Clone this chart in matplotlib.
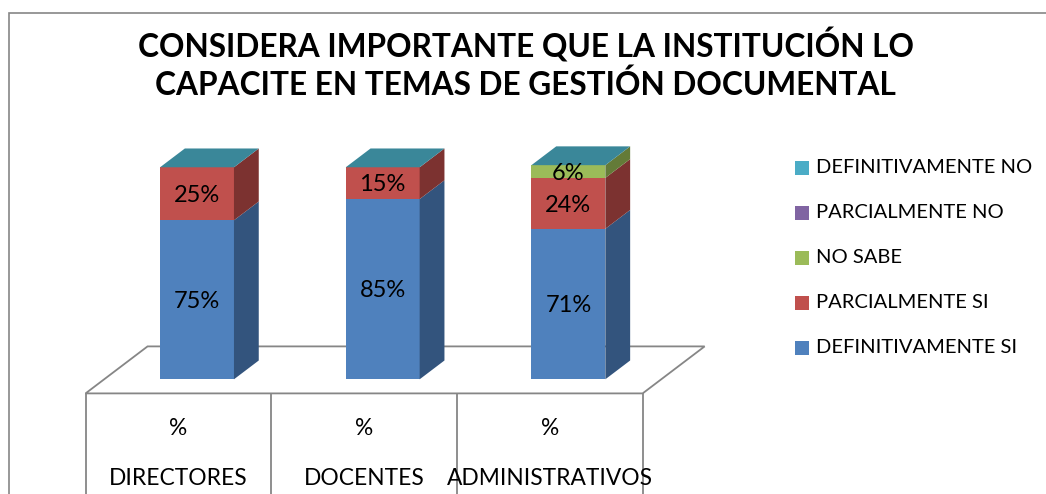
import matplotlib
matplotlib.use("Agg")
import matplotlib.pyplot as plt
from matplotlib.patches import Polygon, Rectangle

# ---------------- data ----------------
categories = ["DIRECTORES", "DOCENTES", "ADMINISTRATIVOS"]
column_header = ["%", "%", "%"]
series_names = ["DEFINITIVAMENTE SI", "PARCIALMENTE SI", "NO SABE",
                "PARCIALMENTE NO", "DEFINITIVAMENTE NO"]
definitivamente_si = [75, 85, 71]
parcialmente_si = [25, 15, 24]
no_sabe = [0, 0, 6]
parcialmente_no = [0, 0, 0]
definitivamente_no = [0, 0, 0]
title_lines = ["CONSIDERA IMPORTANTE QUE LA INSTITUCIÓN LO",
               "CAPACITE EN TEMAS DE GESTIÓN DOCUMENTAL"]

series_values = [definitivamente_si, parcialmente_si, no_sabe,
                 parcialmente_no, definitivamente_no]

# ---------------- style ----------------
front_colors = ["#4F81BD", "#C0504D", "#9BBB59", "#8064A2", "#4BACC6"]
side_colors = ["#33547D", "#7C3230", "#647B38", "#533F6B", "#2F7385"]
top_colors = ["#3F6896", "#9A403E", "#7D9647", "#674F84", "#3A8799"]
grid_color = "#868686"
FONT = "Lato"

W, H, DPI = 1046, 494, 100
fig = plt.figure(figsize=(W / DPI, H / DPI), dpi=DPI)
fig.patch.set_facecolor("white")

# axes spanning the figure; data units: x = category index, y = percent
ax = fig.add_axes([0, 0, 1, 1])
ax.set_xlim(-1.0609, 4.572)
ax.set_ylim(-54.1, 178.9)
ax.axis("off")

# 3D projection parameters (per unit of depth)
DX, DY = 0.3339, 22.17
bar_half = 0.199
bar_depth = 0.4
front_d, back_d = -0.3, 0.7  # floor depth extents relative to bar front
n = len(categories)

# chart frame
frame = Rectangle((9 / W, -0.2), 1.2, 1.2 - 13 / H, transform=fig.transFigure,
                  fill=False, edgecolor=grid_color, linewidth=1.2)
fig.add_artist(frame)

# floor
fx, fy = front_d * DX, front_d * DY
bx, by = back_d * DX, back_d * DY
floor = Polygon([(-0.5 + fx, fy), (n - 0.5 + fx, fy), (n - 0.5 + bx, by), (-0.5 + bx, by)],
                closed=True, facecolor="white", edgecolor=grid_color, linewidth=1.3, zorder=1)
ax.add_patch(floor)

# table lines below the floor
for b in range(n + 1):
    xb = b - 0.5 + fx
    ax.plot([xb, xb], [fy, -60], color=grid_color, linewidth=1.3, zorder=1,
            solid_capstyle="butt")

# bars
ddx, ddy = bar_depth * DX, bar_depth * DY
for i in range(n):
    base = 0.0
    xl, xr = i - bar_half, i + bar_half
    for s, vals in enumerate(series_values):
        v = vals[i]
        top = base + v
        if v > 0:
            ax.add_patch(Rectangle((xl, base), xr - xl, v, facecolor=front_colors[s],
                                   edgecolor="none", zorder=3))
            ax.add_patch(Polygon([(xr, base), (xr + ddx, base + ddy), (xr + ddx, top + ddy), (xr, top)],
                                 closed=True, facecolor=side_colors[s], edgecolor="none", zorder=3))
        base = top
    # top face takes the colour of the top-most series
    ax.add_patch(Polygon([(xl, base), (xr, base), (xr + ddx, base + ddy), (xl + ddx, base + ddy)],
                         closed=True, facecolor=top_colors[-1], edgecolor="none", zorder=3))

# data labels
for i in range(n):
    base = 0.0
    for s, vals in enumerate(series_values):
        v = vals[i]
        if v > 0:
            ax.text(i, base + v / 2 - 0.8, f"{v}%", ha="center", va="center",
                    fontsize=17, family=FONT, color="black", zorder=5)
        base += v

# category table text
for i in range(n):
    ax.text(i + fx, -23, column_header[i], ha="center", va="center",
            fontsize=16.4, family=FONT, color="black")
    ax.text(i + fx, -46.6, categories[i], ha="center", va="center",
            fontsize=16.4, family=FONT, color="black")

# title
fig.text(525.5 / W, 1 - 58 / H, title_lines[0], ha="center", va="baseline",
         fontsize=22.8, fontweight="bold", family=FONT, color="black")
fig.text(525.5 / W, 1 - 95 / H, title_lines[1], ha="center", va="baseline",
         fontsize=22.8, fontweight="bold", family=FONT, color="black")

# legend (reverse order, top entry = last series)
leg_x0, leg_y0, leg_step = 795, 167.7, 45.0
for k, s in enumerate(reversed(range(len(series_names)))):
    cy = leg_y0 + k * leg_step
    fig.add_artist(Rectangle((leg_x0 / W, 1 - (cy + 7) / H), 14 / W, 14 / H,
                             transform=fig.transFigure, facecolor=front_colors[s],
                             edgecolor="none"))
    fig.text(816 / W, 1 - cy / H, series_names[s], ha="left", va="center",
             fontsize=14.5, family=FONT, color="black")

fig.savefig("out.png", dpi=DPI)
